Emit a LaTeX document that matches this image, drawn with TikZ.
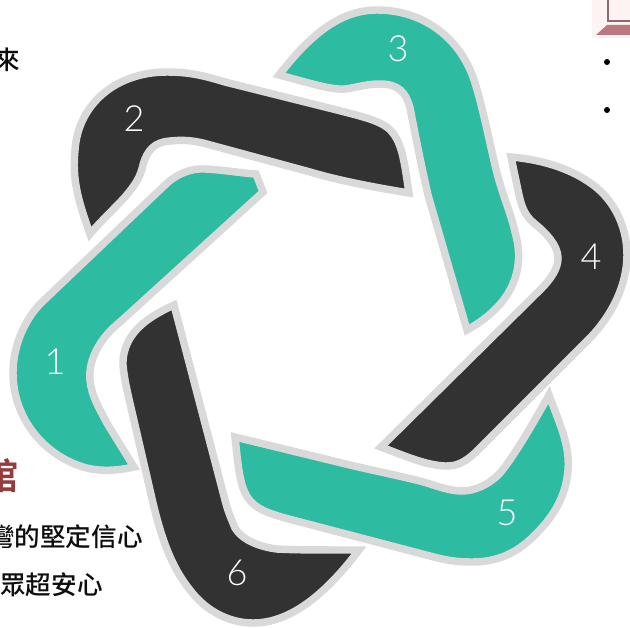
\documentclass[tikz,border=0pt]{standalone}
\usepackage{fontspec}
\setmainfont{Liberation Sans}
\newfontfamily\cjk{Noto Sans CJK TC Medium}
\newfontfamily\cjkb{Noto Sans CJK TC Bold}
\newfontfamily\numf{Lato Light}
\definecolor{tealband}{HTML}{2DBBA2}
\definecolor{darkband}{HTML}{323232}
\definecolor{rimgray}{HTML}{D9D9D9}
\definecolor{redtitle}{HTML}{963A3A}
\definecolor{washpink}{HTML}{FDF3F3}
\definecolor{lapline}{HTML}{8C6A6E}
\definecolor{lapbase}{HTML}{BC7680}
\tikzset{
  x=0.75pt,y=-0.75pt,
  band/.style={draw=rimgray,line width=5.6pt,miter limit=8,line join=miter},
  tealb/.style={band,fill=tealband},
  darkb/.style={band,fill=darkband},
  num/.style={text=white,font=\numf\fontsize{27}{27}\selectfont,inner sep=0pt},
  cjktext/.style={text=black!95,font=\cjk\fontsize{19.2}{21}\selectfont,inner sep=0pt},
  tiny dot/.style={circle,fill=black,minimum size=4.5pt,inner sep=0pt}
}
\begin{document}
\begin{tikzpicture}
\useasboundingbox (0,0) rectangle (630,627);
% band 3
\draw[tealb] (279,75) .. controls (310,35) and (340,10) .. (377,10)
  .. controls (425,10) and (462,40) .. (475,83)
  .. controls (482,105) and (488,135) .. (495,165)
  .. controls (502,195) and (510,210) .. (515,232)
  .. controls (526,270) and (512,305) .. (467,330)
  -- (428,195) .. controls (420,160) and (414,128) .. (410,108)
  .. controls (406,92) and (398,84) .. (380,84)
  .. controls (365,84) and (355,88) .. (345,89)
  .. controls (330,90) and (310,83) .. (279,75) -- cycle;
% band 2
\draw[darkb] (90,234) .. controls (78,200) and (72,180) .. (75,150)
  .. controls (78,105) and (115,72) .. (167,72)
  .. controls (190,72) and (205,76) .. (225,82)
  -- (337,110) .. controls (360,116) and (378,120) .. (388,128)
  .. controls (402,140) and (404,160) .. (409,193)
  .. controls (360,185) and (330,178) .. (310,172)
  -- (203,143) .. controls (190,140) and (180,140) .. (170,141)
  .. controls (155,142) and (147,150) .. (143,165)
  .. controls (140,178) and (135,185) .. (125,197)
  .. controls (115,208) and (100,222) .. (90,234) -- cycle;
% band 1
\draw[tealb] (134,467) .. controls (120,470) and (100,473) .. (80,466)
  .. controls (40,452) and (13,415) .. (13,373)
  .. controls (13,345) and (25,320) .. (40,304)
  -- (165,185) .. controls (175,175) and (190,168) .. (205,169)
  .. controls (225,170) and (240,173) .. (256,174)
  -- (263,192) -- (120,322)
  .. controls (100,338) and (88,360) .. (90,380)
  .. controls (91,395) and (100,410) .. (108,425) -- cycle;
% band 4
\draw[darkb] (511,157) .. controls (545,160) and (575,170) .. (597,188)
  .. controls (617,205) and (627,230) .. (627,255)
  .. controls (627,285) and (612,315) .. (590,338)
  -- (480,448) .. controls (470,458) and (460,467) .. (445,466)
  .. controls (425,465) and (405,456) .. (381,447)
  -- (540,290) .. controls (552,278) and (558,268) .. (558,258)
  .. controls (558,245) and (545,232) .. (535,224)
  .. controls (525,216) and (522,208) .. (519,195) -- cycle;
% band 5
\draw[tealb] (235,437) -- (350,465) .. controls (380,472) and (400,476) .. (420,481)
  .. controls (435,485) and (448,491) .. (462,491)
  .. controls (475,491) and (490,484) .. (500,473)
  .. controls (515,455) and (535,420) .. (549,395)
  .. controls (560,425) and (570,445) .. (568,470)
  .. controls (566,495) and (555,515) .. (535,535)
  .. controls (515,555) and (495,562) .. (472,562)
  .. controls (455,562) and (445,560) .. (430,556)
  -- (285,518) .. controls (260,511) and (248,505) .. (242,485)
  .. controls (238,470) and (237,455) .. (235,437) -- cycle;
% band 6
\draw[darkb] (174,305) .. controls (155,314) and (122,330) .. (123,365)
  .. controls (124,378) and (128,395) .. (132,412)
  -- (150,490) .. controls (160,535) and (170,565) .. (190,590)
  .. controls (205,610) and (228,623) .. (253,623)
  .. controls (290,623) and (325,595) .. (359,550)
  .. controls (320,550) and (295,550) .. (277,549)
  .. controls (260,547) and (242,540) .. (235,528)
  .. controls (231,518) and (228,512) .. (225,500) -- cycle;
\node[num] (n1) at (55,362) {1};
\node[num] (n2) at (134,119) {2};
\node[num] (n3) at (398,49) {3};
\node[num] (n4) at (591,257) {4};
\node[num] (n5) at (507,513) {5};
\node[num] (n6) at (237,573) {6};
\node[cjktext,anchor=east] (lai) at (20,60) {來};
\node[cjktext,anchor=east] (t1) at (143,537) {彎的堅定信心};
\node[cjktext,anchor=east] (t2) at (103,585) {眾超安心};
\node[anchor=east,inner sep=0pt,text=redtitle,font=\cjkb\fontsize{27}{27}\selectfont] (guan) at (19,476) {館};
\node[tiny dot] (b1) at (607,62) {};
\node[tiny dot] (b2) at (607,110) {};
% laptop fragment
\fill[washpink] (592,0) rectangle (630,38);
\draw[lapline,line width=0.9pt] (608,0) -- (608,21) -- (630,21);
\fill[lapbase] (596,35) -- (607,25) -- (630,25) -- (630,35) -- cycle;
\end{tikzpicture}
\end{document}
